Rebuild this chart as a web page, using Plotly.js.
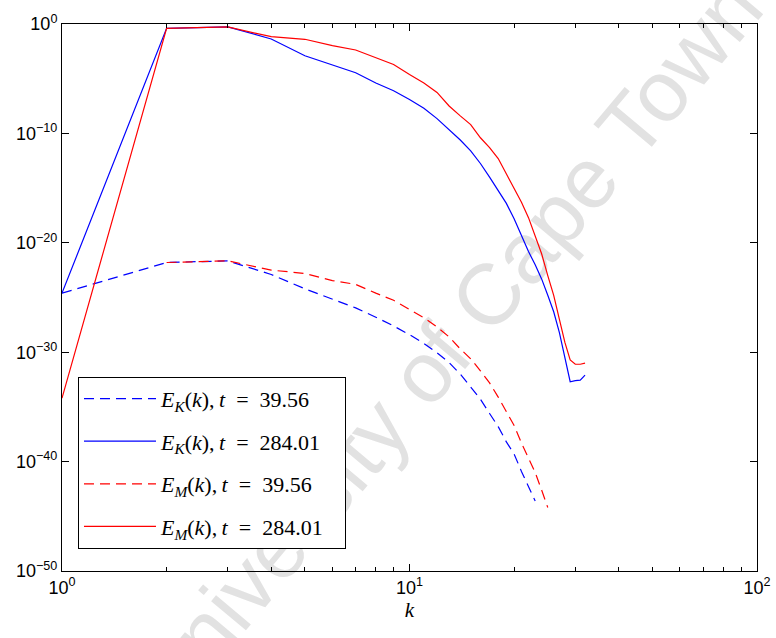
<!DOCTYPE html>
<html><head><meta charset="utf-8">
<script src="https://cdn.plot.ly/plotly-3.0.1.min.js"></script>
<style>html,body{margin:0;padding:0;background:#fff}</style>
</head><body>
<div id="chart" style="width:776px;height:638px"></div>
<script>
// wavenumbers
const kSolid = [1,2,3,4,5,6,7,8,9,10,11,12,13,14,15,16,17,18,19,20,21,22,23,24,25,26,27,28,29,30,31,32];
const kEK39 = [1,2,3,4,5,6,7,8,9,10,11,12,13,14,15,16,17,18,19,20,21,22,23];
const kEM39 = [2,3,4,5,6,7,8,9,10,11,12,13,14,15,16,17,18,19,20,21,22,23,24,25];

// E_K(k), t = 39.56
const EK39 = [2.5e-25,1.58e-22,2.24e-22,1.26e-23,6.3e-25,7.1e-26,1.12e-26,1.58e-27,2.5e-28,4.0e-29,
  6.3e-30,8.9e-31,1.12e-31,1.0e-32,6.3e-34,5.0e-35,2.5e-36,1.58e-37,6.3e-39,5.0e-40,1.26e-41,5.0e-43,2.5e-44];
// E_K(k), t = 284.01
const EK284 = [2.5e-25,0.4,0.54,4.3e-2,1.26e-3,1.78e-4,3.55e-5,4.0e-6,7.9e-7,1.26e-7,
  2.0e-8,2.24e-9,2.0e-10,2.5e-11,2.5e-12,1.78e-13,1.0e-14,6.3e-16,4.0e-17,1.58e-18,
  5.0e-20,1.58e-21,1.0e-22,5.0e-24,1.58e-25,5.0e-27,6.3e-29,4.0e-31,2.0e-33,2.5e-33,2.8e-33,7.9e-33];
// E_M(k), t = 39.56
const EM39 = [1.58e-22,2.24e-22,3.2e-23,1.58e-23,3.55e-24,1.58e-24,2.5e-25,5.6e-26,7.9e-27,1.41e-27,
  2.0e-28,2.5e-29,2.0e-30,2.5e-31,2.0e-32,1.58e-33,7.9e-35,4.0e-36,2.0e-37,5.0e-39,2.0e-40,1.0e-41,2.5e-43,6.3e-45];
// E_M(k), t = 284.01
const EM284 = [6.3e-35,0.4,0.54,0.069,0.04,0.0105,4.2e-3,8.3e-4,2.0e-4,2.4e-5,
  4.0e-6,5.6e-7,3.2e-8,4.0e-9,6.3e-10,4.0e-11,5.0e-12,5.0e-13,2.0e-14,7.9e-16,
  5.0e-17,2.0e-18,5.0e-20,1.0e-21,1.0e-23,1.58e-25,1.0e-27,7.9e-30,2.0e-31,7.9e-32,7.9e-32,1.0e-31];

const PADR = '\u2002\u2009';
const seriesNames = [
  '<i>E</i><sub><i>K</i></sub>(<i>k</i>),\u2009<i>t</i>\u2002=\u200239.56' + PADR,
  '<i>E</i><sub><i>K</i></sub>(<i>k</i>),\u2009<i>t</i>\u2002=\u2002284.01' + PADR,
  '<i>E</i><sub><i>M</i></sub>(<i>k</i>),\u2009<i>t</i>\u2002=\u200239.56' + PADR,
  '<i>E</i><sub><i>M</i></sub>(<i>k</i>),\u2009<i>t</i>\u2002=\u2002284.01' + PADR
];
const xTickVals = [1,10,100];
const xTickText = ['10<sup>0</sup>','10<sup>1</sup>','10<sup>2</sup>'];
const xMinorVals = [2,3,4,5,6,7,8,9,20,30,40,50,60,70,80,90];
const yTickVals = [1,1e-10,1e-20,1e-30,1e-40,1e-50];
const yTickText = ['10<sup>0</sup>','10<sup>\u221210</sup>','10<sup>\u221220</sup>','10<sup>\u221230</sup>','10<sup>\u221240</sup>','10<sup>\u221250</sup>'];

const BLUE = 'rgb(0,0,255)', RED = 'rgb(255,0,0)';
const DASH = '10px,6px';

const traces = [
  {x:kEK39, y:EK39, name:seriesNames[0], legendgroup:'a', mode:'lines', line:{color:BLUE, width:1.2, dash:DASH}},
  {x:kSolid, y:EK284, name:seriesNames[1], legendgroup:'b', mode:'lines', line:{color:BLUE, width:1.2}},
  {x:kEM39, y:EM39, name:seriesNames[2], legendgroup:'c', mode:'lines', line:{color:RED, width:1.2, dash:DASH}},
  {x:kSolid, y:EM284, name:seriesNames[3], legendgroup:'d', mode:'lines', line:{color:RED, width:1.2}}
];

const axisCommon = {
  type:'log', showgrid:false, zeroline:false, showline:true, linecolor:'#000', linewidth:1,
  mirror:'ticks', ticks:'inside', ticklen:7, tickwidth:1, tickcolor:'#000',
  tickfont:{family:'Liberation Sans, Arial, sans-serif', size:18, color:'#000'}
};

const layout = {
  width:776, height:638,
  margin:{l:62, r:19, t:24, b:67},
  paper_bgcolor:'#fff', plot_bgcolor:'rgba(0,0,0,0)',
  showlegend:true,
  xaxis: Object.assign({}, axisCommon, {
    range:[0,2], tickmode:'array', tickvals:xTickVals, ticktext:xTickText,
    minor:{tickmode:'array', tickvals:xMinorVals, ticks:'inside', ticklen:4, tickwidth:1, tickcolor:'#000'},
    title:{text:'<i>k</i>', font:{family:'Liberation Serif, serif', size:21, color:'#000'}, standoff:4}
  }),
  yaxis: Object.assign({}, axisCommon, {
    range:[-50,0], tickmode:'array', tickvals:yTickVals, ticktext:yTickText
  }),
  legend:{
    x:0.023, y:0.355, xanchor:'left', yanchor:'top',
    bgcolor:'#fff', bordercolor:'#000', borderwidth:1,
    font:{family:'Liberation Serif, serif', size:22, color:'#000'},
    itemwidth:72, tracegroupgap:11, traceorder:'grouped'
  },
  shapes:[{
    type:'line', xref:'paper', yref:'paper', layer:'below',
    x0:0.4514, y0:0.2823, x1:0.6364, y1:0.5623,
    line:{color:'rgba(0,0,0,0)', width:0},
    label:{text:'University of Cape Town', textangle:'auto', textposition:'middle', yanchor:'middle', xanchor:'center',
      font:{family:'Liberation Sans, Arial, sans-serif', size:86, color:'rgb(226,226,226)'}}
  }]
};

Plotly.newPlot('chart', traces, layout, {displayModeBar:false, staticPlot:true});
</script>
</body></html>
